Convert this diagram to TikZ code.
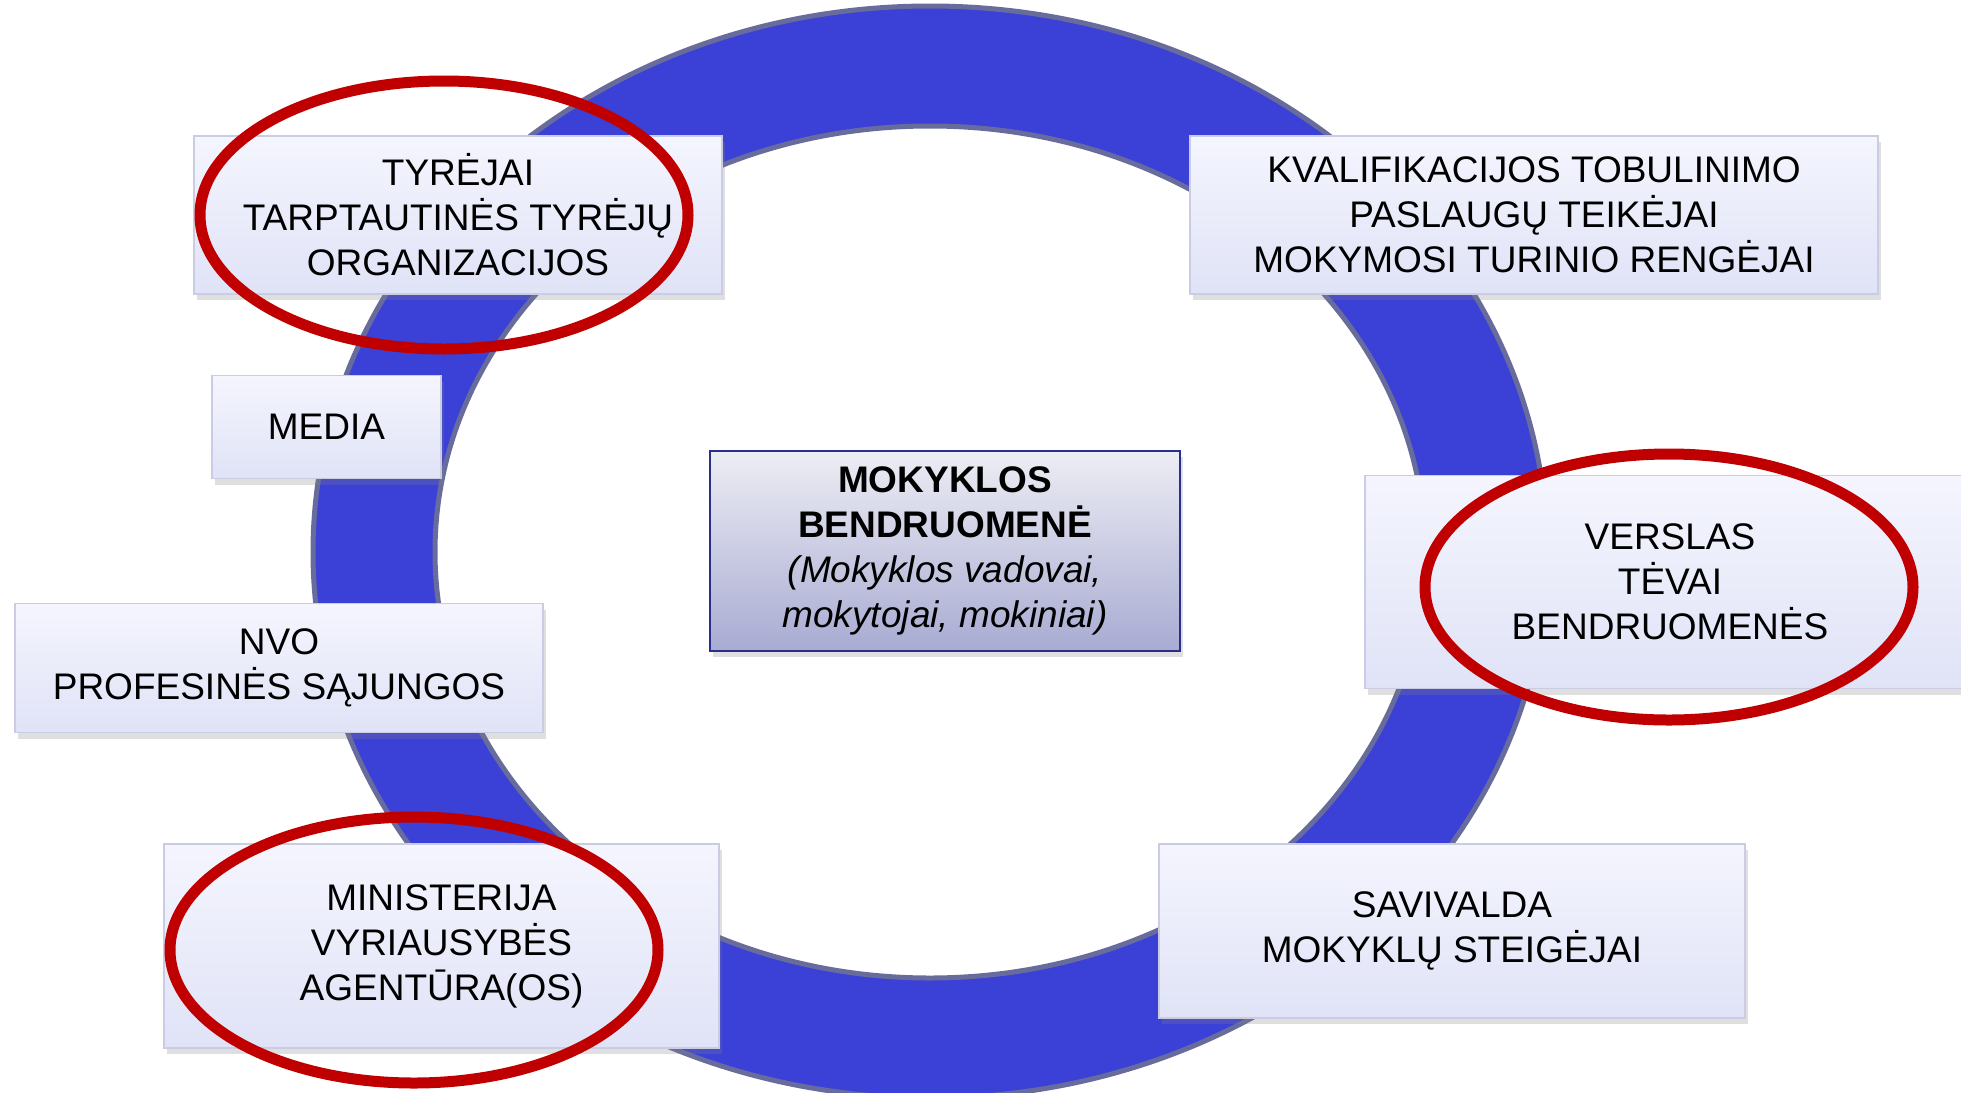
\documentclass[tikz,border=0pt]{standalone}
\usepackage{fontspec}
\setmainfont{Liberation Sans}
\usetikzlibrary{shadows}

\definecolor{ringblue}{HTML}{3B41D6}
\definecolor{ringedge}{HTML}{686C9C}
\definecolor{boxtop}{HTML}{F4F5FD}
\definecolor{boxbot}{HTML}{E0E3F7}
\definecolor{boxedge}{HTML}{C9CCE2}
\definecolor{midtop}{HTML}{EDEDF4}
\definecolor{midbot}{HTML}{A8ABD2}
\definecolor{midedge}{HTML}{2A2F8C}
\definecolor{markred}{HTML}{C00000}

\tikzset{
  actor/.style={draw=boxedge, line width=0.75pt, top color=boxtop, bottom color=boxbot,
    align=center, inner sep=0pt, font=\fontsize{18.5}{22.5}\selectfont,
    drop shadow={opacity=0.25, shadow xshift=1.5pt, shadow yshift=-3pt}},
  school/.style={actor, draw=midedge, top color=midtop, bottom color=midbot},
  redring/.style={draw=markred, line width=5.5pt}
}

\begin{document}
\begin{tikzpicture}[x=0.5pt,y=-0.5pt]
\useasboundingbox (0,0) rectangle (1961,1093);
\clip (0,0) rectangle (1961,1093);
\coordinate (O) at (930,552);
% ring
\fill[ringblue, even odd rule] (O) ellipse [x radius=617, y radius=546]
  (O) ellipse [x radius=495, y radius=426];
\draw[ringedge, line width=2.5pt] (O) ellipse [x radius=617, y radius=546];
\draw[ringedge, line width=2.5pt] (O) ellipse [x radius=495, y radius=426];
% actors
\node[actor, minimum width=264pt, minimum height=79pt] (tyr) at (458,215)
  {TYRĖJAI\\TARPTAUTINĖS TYRĖJŲ\\ORGANIZACIJOS};
\node[actor, minimum width=344pt, minimum height=79pt] (kval) at (1534,215)
  {KVALIFIKACIJOS TOBULINIMO\\PASLAUGŲ TEIKĖJAI\\MOKYMOSI TURINIO RENGĖJAI};
\node[actor, minimum width=114.5pt, minimum height=51.5pt] (media) at (326.5,427)
  {MEDIA};
\node[actor, minimum width=305pt, minimum height=106.5pt] (vers) at (1670,582)
  {VERSLAS\\TĖVAI\\BENDRUOMENĖS};
\node[actor, minimum width=264pt, minimum height=64.5pt] (nvo) at (279,668)
  {NVO\\PROFESINĖS SĄJUNGOS};
\node[actor, minimum width=277.5pt, minimum height=102pt] (min) at (441.5,946)
  {MINISTERIJA\\VYRIAUSYBĖS\\AGENTŪRA(OS)};
\node[actor, minimum width=293pt, minimum height=87pt] (sav) at (1452,931)
  {SAVIVALDA\\MOKYKLŲ STEIGĖJAI};
\node[school, minimum width=235pt, minimum height=100pt] (mok) at (945,551)
  {\textbf{MOKYKLOS}\\\textbf{BENDRUOMENĖ}\\\textit{(Mokyklos vadovai,}\\\textit{mokytojai, mokiniai)}};
% red marks
\draw[redring] (444,215) ellipse [x radius=244, y radius=134];
\draw[redring] (1669,587) ellipse [x radius=244, y radius=133];
\draw[redring] (414,950) ellipse [x radius=244, y radius=133];
\end{tikzpicture}
\end{document}
